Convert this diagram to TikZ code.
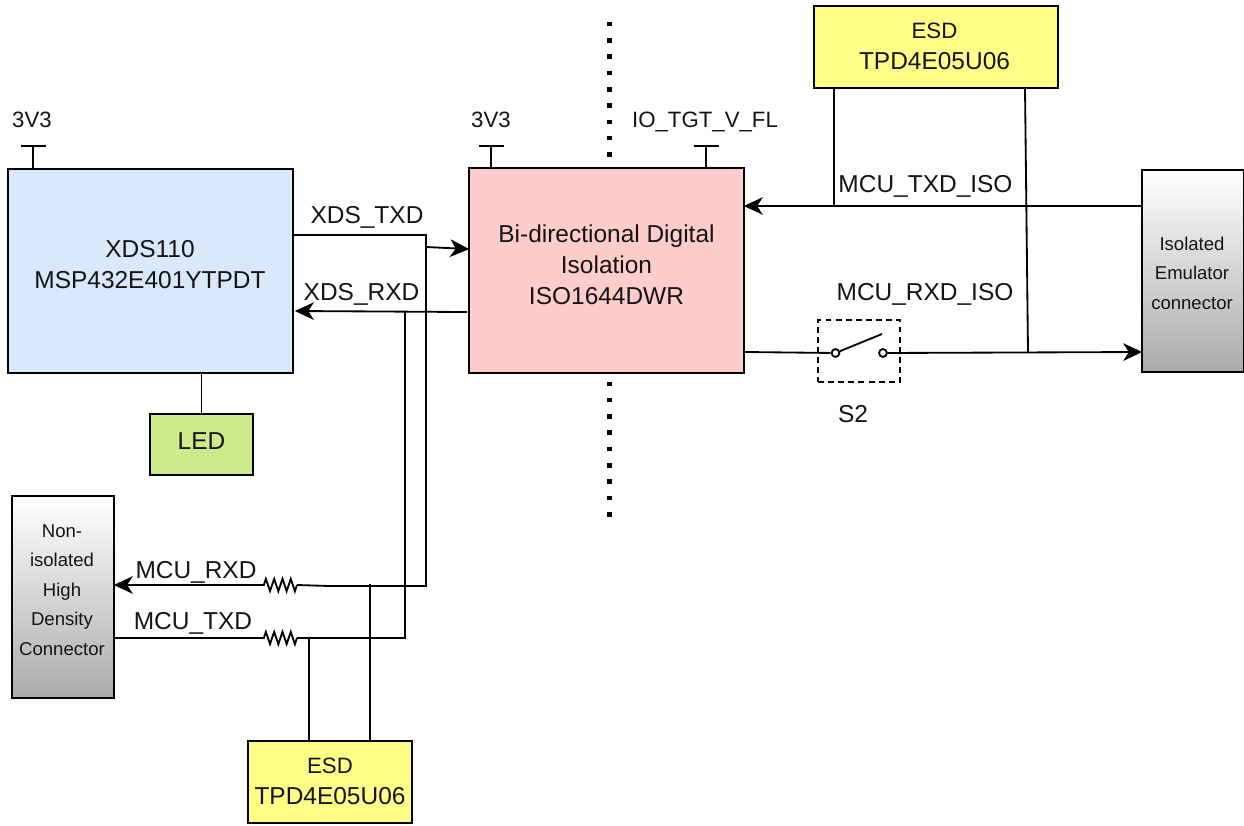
\documentclass[tikz,border=0pt]{standalone}
\usepackage{fontspec}
\setmainfont{Liberation Sans}
\usepackage{xcolor}
\usetikzlibrary{arrows.meta, positioning, calc, decorations.pathmorphing}

\definecolor{xdsblue}{HTML}{DAE8FC}
\definecolor{isopink}{HTML}{FFCCCC}
\definecolor{ledgreen}{HTML}{CDEB8B}
\definecolor{esdyellow}{HTML}{FFFF88}
\definecolor{inktext}{HTML}{141414}

\begin{document}
\begin{tikzpicture}[
    x=0.025cm, y=-0.025cm,
    block/.style={rectangle, draw=black, line width=1.3pt, align=center, inner sep=0pt,
                  text=inktext, font=\fontsize{17.4}{22}\selectfont},
    conn/.style={block, top color=white, bottom color=black!33, minimum width=2.55cm, minimum height=5.05cm},
    esd/.style={block, fill=esdyellow, minimum height=2.05cm},
    wire/.style={line width=1.3pt, black},
    arrow/.style={wire, shorten >=-0.8pt, -{Stealth[length=13.5pt, width=12.5pt, inset=4pt]}},
    res/.style={wire, decorate, decoration={zigzag, segment length=5.9pt, amplitude=4.4pt}},
    iso/.style={line width=3.2pt, black, dash pattern=on 3.2pt off 8.4pt},
    lbl/.style={inner sep=0pt, text=inktext, font=\fontsize{17.4}{22}\selectfont},
    inner/.style={lbl, align=center},
    conntxt/.style={inner, font=\fontsize{13.2}{20.9}\selectfont},
    pwr/.style={inner sep=0pt, text=inktext, font=\fontsize{15.8}{20}\selectfont},
    contact/.style={circle, draw=black, line width=1.3pt, fill=white, inner sep=0pt, minimum size=5.6pt}
]
\useasboundingbox (0,0) rectangle (1244,825);

% ---- Blocks ----
\node[block, fill=xdsblue, minimum width=7.125cm, minimum height=5.1cm] (xds) at (150.5,271) {};
\node[inner] (xdstxt) at (150,265) {XDS110\\MSP432E401YTPDT};
\node[block, fill=isopink, minimum width=6.875cm, minimum height=5.125cm] (isol) at (606.5,270.5) {};
\node[inner] (isotxt) at (606.5,264.5) {Bi-directional Digital\\Isolation\\ISO1644DWR};
\node[block, fill=ledgreen, minimum width=2.575cm, minimum height=1.525cm] (led) at (201.5,444.5) {};
\node[inner] (ledtxt) at (201.5,441.5) {LED};
\node[conn] (hdconn) at (63,597) {};
\node[conntxt] (hdtxt) at (62,590) {Non-\\isolated\\High\\Density\\Connector};
\node[conn] (emuconn) at (1193,271) {};
\node[conntxt] (emutxt) at (1192,273) {Isolated\\Emulator\\connector};
\node[esd, minimum width=6.1cm] (esdtop) at (936,47) {};
\node[inner] (esdtoptxt) at (934.5,46) {{\fontsize{15.8}{19}\selectfont ESD}\\TPD4E05U06};
\node[esd, minimum width=4.1cm] (esdbot) at (330,782) {};
\node[inner] (esdbottxt) at (330,781) {{\fontsize{15.8}{19}\selectfont ESD}\\TPD4E05U06};

% ---- Power rails ----
\coordinate (xdspwr) at (33,146);
\coordinate (isopwr) at (491,146);
\coordinate (tgtpwr) at (706,146);
\foreach \rail/\anchor in {xdspwr/xds, isopwr/isol, tgtpwr/isol} {
    \draw[wire] (\rail) -- (\rail |- \anchor.north);
    \draw[wire] ([xshift=-12.5*0.025cm]\rail) -- ([xshift=12.5*0.025cm]\rail);
}
\node[pwr] (xdsv) at (32,120) {3V3};
\node[pwr] (isov) at (491,120) {3V3};
\node[pwr] (tgtv) at (705,122) {IO\_TGT\_V\_FL};

% ---- Isolation barrier ----
\coordinate (bartop) at (609.3,21.8);
\coordinate (barmid) at (609.3,158);
\coordinate (barlow) at (609.3,381.5);
\coordinate (barend) at (609.3,518);
\draw[iso] (bartop) -- (barmid);
\draw[iso] (barlow) -- (barend);

% ---- LED ----
\draw[wire] (led.north |- xds.south) -- (led.north);

% ---- Junction points ----
\coordinate (txcorner) at (426,235);
\coordinate (txlow) at (426,586);
\coordinate (rxtap) at (405,312);
\coordinate (rxlow) at (405,638);
\coordinate (r1a) at (297,585);
\coordinate (r1b) at (261,585);
\coordinate (r2a) at (297,638);
\coordinate (r2b) at (261,638);

% ---- XDS <-> isolator ----
\draw[wire] (xds.east |- txcorner) -- (txcorner) -- (txlow) -- (330,586) -- (r1a);
\draw[arrow] (426,247) -- (isol.west |- 0,249);
\draw[arrow] (467,312) -- (296,311);
\draw[wire] (rxtap) -- (rxlow) -- (r2a);

% ---- Series resistors ----
\draw[res] (r1a) -- (r1b);
\draw[res] (r2a) -- (r2b);
\draw[arrow] (r1b) -- (hdconn.east |- r1b);
\draw[wire] (r2b) -- (hdconn.east |- r2b);

% ---- Bottom ESD ----
\draw[wire] (309,741) -- (309,638);
\draw[wire] (370,741) -- (370,584);

% ---- Top ESD ----
\draw[wire] (834,88) -- (834,206);
\draw[wire] (1025,88) -- (1028,352);

% ---- Isolated side ----
\draw[arrow] (emuconn.west |- 0,206) -- (isol.east |- 0,206);
\node[contact] (swa) at (835.5,353) {};
\node[contact] (swb) at (883,353) {};
\draw[wire] (isol.east |- 0,352) -- (swa);
\draw[wire] (swa) -- (882,334);
\draw[arrow] (swb) -- (emuconn.west |- 0,352);
\node[draw=black, line width=1.3pt, dash pattern=on 4.2pt off 3pt, minimum width=2.05cm, minimum height=1.55cm, inner sep=0pt] (swbox) at (859,351) {};

% ---- Signal labels ----
\node[lbl] (txdl) at (367,217) {XDS\_TXD};
\node[lbl] (rxdl) at (361.5,294) {XDS\_RXD};
\node[lbl] (mrxl) at (196,572) {MCU\_RXD};
\node[lbl] (mtxl) at (193,623) {MCU\_TXD};
\node[lbl] (txil) at (925.5,186) {MCU\_TXD\_ISO};
\node[lbl] (rxil) at (925,294) {MCU\_RXD\_ISO};
\node[lbl] (swl) at (853,414) {S2};

\end{tikzpicture}
\end{document}
